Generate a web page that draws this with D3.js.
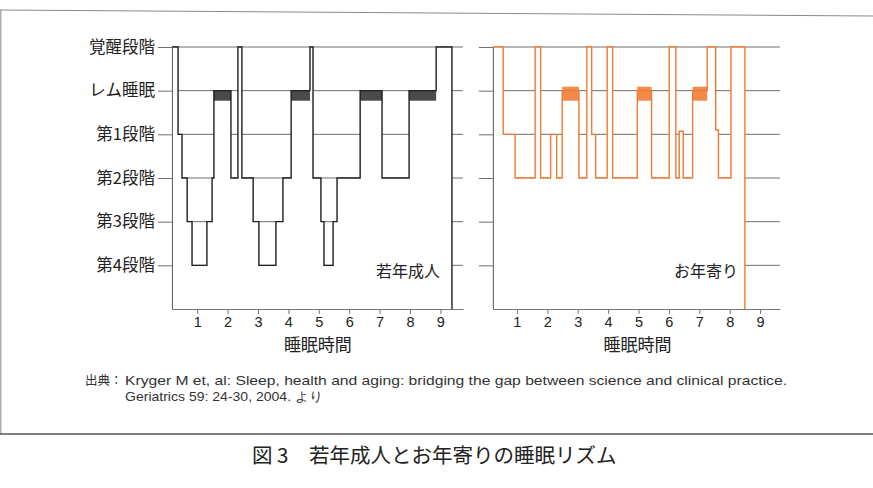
<!DOCTYPE html>
<html><head><meta charset="utf-8">
<script src="https://cdn.jsdelivr.net/npm/d3@7"></script>
<style>
html,body{margin:0;padding:0;background:#fff;}
svg{display:block;font-family:"Noto Sans CJK JP","Noto Sans",sans-serif;}
</style></head>
<body><svg id="c" width="873" height="488"></svg>
<script>
// ---- data ----
const stageLabels = ["覚醒段階", "レム睡眠", "第1段階", "第2段階", "第3段階", "第4段階"];
const stageTicks = [0, 1, 2, 3, 4, 5];
const hourTicks = [1, 2, 3, 4, 5, 6, 7, 8, 9];
const panelNames = ["若年成人", "お年寄り"];
const axisTitle = "睡眠時間";
// young adults: time (h) where each stage starts; stage 6 = end of record (baseline)
const youngTimes  = [0.17, 0.37, 0.50, 0.67, 0.83, 1.32, 1.49, 1.55, 2.11, 2.34, 2.47, 2.84, 3.03, 3.59, 3.82, 4.09, 4.71, 4.81, 5.07, 5.17, 5.47, 5.60, 6.36, 7.08, 7.97, 8.86, 9.38];
const youngStages = [0,    2,    3,    4,    5,    4,    3,    1,    3,    0,    3,    4,    5,    4,    3,    1,    0,    3,    4,    5,    4,    3,    1,    3,    1,    0,    6];
// elderly
const elderTimes  = [0.21, 0.55, 0.94, 1.60, 1.78, 2.11, 2.31, 2.49, 3.04, 3.30, 3.46, 3.59, 3.97, 4.15, 4.96, 5.43, 6.01, 6.23, 6.34, 6.47, 6.78, 7.26, 7.54, 7.63, 8.04, 8.50];
const elderStages = [0,    2,    3,    0,    3,    2,    3,    1,    3,    0,    2,    3,    0,    3,    1,    3,    0,    3,    1.93, 3,   1,    0,    1.9,  3,    0,    6];
const sourceLabel = "出典：";
const sourceLine1 = "Kryger M et, al: Sleep, health and aging: bridging the gap between science and clinical practice.";
const sourceLine2 = "Geriatrics 59: 24-30, 2004. より";
const caption = "図 3　若年成人とお年寄りの睡眠リズム";

// ---- drawing ----
const svg = d3.select("#c");
const yTop = 47, yBot = 309;
const y = d3.scaleLinear().domain([0, 6]).range([yTop, yBot]);

// frame lines
svg.append("line").attr("x1", 0).attr("y1", 10).attr("x2", 873).attr("y2", 16)
  .attr("stroke", "#8a8a8a").attr("stroke-width", 1.2);
svg.append("line").attr("x1", 0.8).attr("y1", 10).attr("x2", 0.8).attr("y2", 434)
  .attr("stroke", "#9a9a9a").attr("stroke-width", 1.2);
svg.append("line").attr("x1", 0).attr("y1", 434).attr("x2", 873).attr("y2", 434)
  .attr("stroke", "#555").attr("stroke-width", 1.3);

const panels = [
  {times: youngTimes, stages: youngStages, x0: 166.8, endT: 9.74, color: "#1e1e1e", remFill: "#4a4a4a",
   remTop: 1, remBot: 1.23, labels: true, name: panelNames[0], nameX: 440},
  {times: elderTimes, stages: elderStages, x0: 486.5, endT: 9.65, color: "#ee7b33", remFill: "#f28a4a",
   remTop: 0.91, remBot: 1.23, labels: false, name: panelNames[1], nameX: 738}
];

panels.forEach(p => {
  const x = d3.scaleLinear().domain([0, 9]).range([p.x0, p.x0 + 273.6]);
  const t0 = p.times[0];
  const g = svg.append("g");
  const pts = p.times.map((t, i) => [t, p.stages[i]]);

  // gridlines at every stage
  g.selectAll(".grid").data(stageTicks).join("line")
    .attr("x1", x(t0)).attr("x2", x(p.endT))
    .attr("y1", d => y(d)).attr("y2", d => y(d))
    .attr("stroke", "#6e6e6e").attr("stroke-width", 1);

  // mask gridlines below the hypnogram
  g.append("path").datum(pts)
    .attr("d", d3.area().curve(d3.curveStepAfter)
      .x(d => x(d[0])).y0(y(6)).y1(d => y(d[1])))
    .attr("fill", "#fff");

  // REM blocks
  const rem = [];
  p.stages.forEach((s, i) => { if (s === 1) rem.push([p.times[i], p.times[i + 1]]); });
  g.selectAll(".rem").data(rem).join("rect")
    .attr("x", d => x(d[0])).attr("width", d => x(d[1]) - x(d[0]))
    .attr("y", y(p.remTop)).attr("height", y(p.remBot) - y(p.remTop))
    .attr("fill", p.remFill);

  // hypnogram line
  g.append("path").datum(pts)
    .attr("d", d3.line().curve(d3.curveStepAfter).x(d => x(d[0])).y(d => y(d[1])))
    .attr("fill", "none").attr("stroke", p.color).attr("stroke-width", 1.4);

  // y axis
  const ya = g.append("g").attr("transform", `translate(${x(t0)},0)`)
    .call(d3.axisLeft(y).tickValues(stageTicks).tickSize(14).tickSizeOuter(0).tickPadding(3)
      .tickFormat(d => p.labels ? stageLabels[d] : ""));
  ya.select(".domain").attr("stroke", "#666").attr("stroke-width", 1.1);
  ya.selectAll(".tick line").attr("stroke", "#6e6e6e");
  ya.selectAll(".tick text").attr("font-size", 16.5).attr("fill", "#222")
    .attr("font-family", "'Noto Sans CJK JP',sans-serif");

  // x axis
  const xa = d3.scaleLinear().domain([t0, p.endT]).range([x(t0), x(p.endT)]);
  const xg = g.append("g").attr("transform", `translate(0,${yBot})`)
    .call(d3.axisBottom(xa).tickValues(hourTicks).tickSize(5).tickSizeOuter(0).tickPadding(3)
      .tickFormat(d3.format("d")));
  xg.select(".domain").attr("stroke", "#777").attr("stroke-width", 1.1);
  xg.selectAll(".tick line").attr("stroke", "#777");
  xg.selectAll(".tick text").attr("font-size", 14.5).attr("fill", "#222")
    .attr("font-family", "'Liberation Sans',Arial,sans-serif");

  g.append("text").attr("x", x(4.97)).attr("y", 351).attr("text-anchor", "middle")
    .attr("font-size", 17).attr("fill", "#222").text(axisTitle);

  g.append("text").attr("x", p.nameX).attr("y", 277).attr("text-anchor", "end")
    .attr("font-size", 16).attr("fill", "#222").text(p.name);
});

// source note
svg.append("text").attr("x", 85).attr("y", 385).attr("font-size", 12.5).attr("fill", "#333").text(sourceLabel);
svg.append("text").attr("x", 125).attr("y", 385).attr("font-size", 13).attr("fill", "#333")
  .attr("font-family", "'Liberation Sans',Arial,sans-serif")
  .attr("textLength", 662).attr("lengthAdjust", "spacingAndGlyphs").text(sourceLine1);
svg.append("text").attr("x", 125).attr("y", 401).attr("font-size", 13).attr("fill", "#333")
  .attr("font-family", "'Liberation Sans',Arial,sans-serif")
  .attr("textLength", 198).attr("lengthAdjust", "spacingAndGlyphs").text(sourceLine2);

// caption
svg.append("text").attr("x", 252).attr("y", 463).attr("font-size", 20.5).attr("fill", "#222")
  .text(caption);
</script></body></html>
